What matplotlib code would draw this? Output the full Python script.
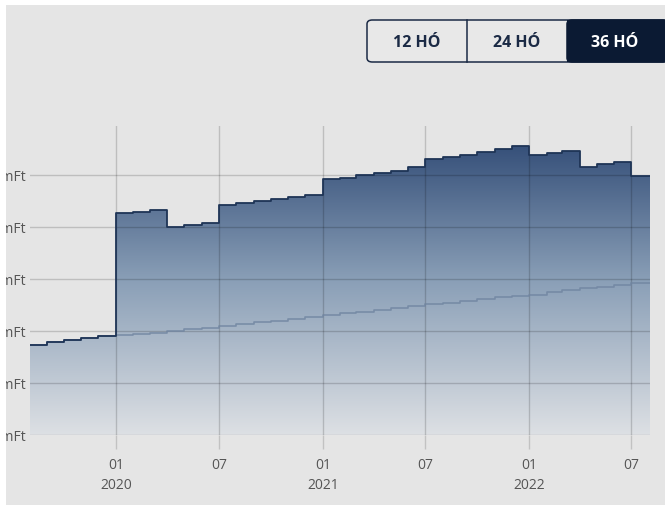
import numpy as np
import matplotlib
matplotlib.use('Agg')
import matplotlib.pyplot as plt
import matplotlib.dates as mdates
from matplotlib.colors import LinearSegmentedColormap
from matplotlib.patches import PathPatch, Rectangle, FancyBboxPatch
import datetime as dt

plt.rcParams['font.family'] = ['Open Sans', 'DejaVu Sans']

# monthly steps, Aug 2019 .. Jul 2022 (value of the portfolio and paid-in amount)
months = [dt.date(2019 + (7 + i) // 12, (7 + i) % 12 + 1, 1) for i in range(36)]
end_date = dt.date(2022, 8, 3)

portfolio = [1.73, 1.79, 1.83, 1.87, 1.90,
             4.27, 4.29, 4.33, 3.99, 4.03, 4.07, 4.43, 4.46, 4.50, 4.54, 4.57, 4.62,
             4.93, 4.95, 4.99, 5.03, 5.08, 5.16, 5.30, 5.35, 5.38, 5.44, 5.49, 5.56,
             5.39, 5.43, 5.46, 5.16, 5.20, 5.25, 4.97]

paid_in = [1.73, 1.79, 1.83, 1.87, 1.90,
           1.92, 1.94, 1.96, 2.00, 2.03, 2.06, 2.10, 2.13, 2.17, 2.20, 2.23, 2.26,
           2.31, 2.34, 2.37, 2.40, 2.44, 2.48, 2.51, 2.54, 2.58, 2.62, 2.65, 2.68,
           2.70, 2.74, 2.78, 2.82, 2.85, 2.89, 2.93]

y_ticks = [0, 1, 2, 3, 4, 5]
y_labels = ['0 mFt', '1 mFt', '2 mFt', '3 mFt', '4 mFt', '5 mFt']
buttons = ['12 HÓ', '24 HÓ', '36 HÓ']

W, H = 665, 506
fig = plt.figure(figsize=(W / 100, H / 100), dpi=100)
fig.patch.set_facecolor('#e5e5e5')

ax = fig.add_axes([30 / W, 70 / H, 620 / W, 309 / H])
ax.set_facecolor('none')
for s in ax.spines.values():
    s.set_visible(False)

x = mdates.date2num(months + [end_date])
up = portfolio + [portfolio[-1]]
lo = paid_in + [paid_in[-1]]

x0 = mdates.date2num(dt.date(2019, 8, 2))
x1 = mdates.date2num(end_date)
ytop = 5.94
ax.set_xlim(x0, x1)
ax.set_ylim(0, ytop)

# gradient fill under the portfolio line
poly = ax.fill_between(x, up, 0, step='post', facecolor='none', edgecolor='none')
clip = PathPatch(poly.get_paths()[0], transform=ax.transData, facecolor='none', edgecolor='none')
ax.add_patch(clip)
cmap = LinearSegmentedColormap.from_list('g', ['#dde0e4', '#8a9fb7', '#2a4571'])
grad = np.linspace(0, 1, 256).reshape(-1, 1)
im = ax.imshow(grad, extent=[x[0], x[-1], 0, ytop], origin='lower', aspect='auto',
               cmap=cmap, zorder=1)
im.set_clip_path(clip)

ax.step(x, lo, where='post', color='#6f84a0', lw=1.2, alpha=0.8, zorder=4)
ax.step(x, up, where='post', color='#1e3456', lw=1.3, zorder=5)

# axes
xt = [dt.date(2020, 1, 1), dt.date(2020, 7, 1), dt.date(2021, 1, 1),
      dt.date(2021, 7, 1), dt.date(2022, 1, 1), dt.date(2022, 7, 1)]
ax.set_xticks(mdates.date2num(xt))
ax.set_xticklabels(['01\n2020', '07', '01\n2021', '07', '01\n2022', '07'],
                   linespacing=1.4, va='top')
ax.set_yticks(y_ticks)
ax.set_yticklabels(y_labels)
ax.tick_params(axis='x', length=10, width=1, color='#c2c2c2', pad=6,
               labelsize=10, labelcolor='#555555')
ax.tick_params(axis='y', length=0, pad=3, labelsize=10, labelcolor='#555555')
ax.grid(True, color='#000000', alpha=0.17, lw=1, zorder=3)
ax.set_axisbelow(False)

# white margins of the screenshot
fig.patches.append(Rectangle((0, 0), 6 / W, 1, transform=fig.transFigure,
                             facecolor='white', edgecolor='none', zorder=10))
fig.patches.append(Rectangle((0, 1 - 6 / H), 1, 6 / H, transform=fig.transFigure,
                             facecolor='white', edgecolor='none', zorder=10))

# period buttons
bx0, bx1, by0, by1 = 367, 668, 21, 63
def fx(px):
    return px / W
def fy(py):
    return 1 - py / H

frame = FancyBboxPatch((fx(bx0), fy(by1)), fx(bx1 - bx0), (by1 - by0) / H,
                       boxstyle='round,pad=0,rounding_size=0.008',
                       transform=fig.transFigure, facecolor='#e8e8e8',
                       edgecolor='#1b2a45', lw=1.1, zorder=11)
fig.patches.append(frame)
dark = FancyBboxPatch((fx(567), fy(by1)), fx(bx1 - 567), (by1 - by0) / H,
                      boxstyle='round,pad=0,rounding_size=0.008',
                      transform=fig.transFigure, facecolor='#0b1a33',
                      edgecolor='#0b1a33', lw=1.1, zorder=12)
fig.patches.append(dark)
fig.patches.append(Rectangle((fx(567), fy(by1)), fx(20), (by1 - by0) / H,
                             transform=fig.transFigure, facecolor='#0b1a33',
                             edgecolor='none', zorder=12))
fig.lines.append(plt.Line2D([fx(467), fx(467)], [fy(by0), fy(by1)],
                            transform=fig.transFigure, color='#1b2a45', lw=1.1, zorder=12))
for i, lab in enumerate(buttons):
    cx = [417, 517, 615][i]
    col = 'white' if i == 2 else '#1b2a45'
    fig.text(fx(cx), fy(43), lab, ha='center', va='center', fontsize=11.5,
             fontweight='bold', color=col, zorder=13)

fig.savefig('out.png', dpi=100, facecolor=fig.get_facecolor())
